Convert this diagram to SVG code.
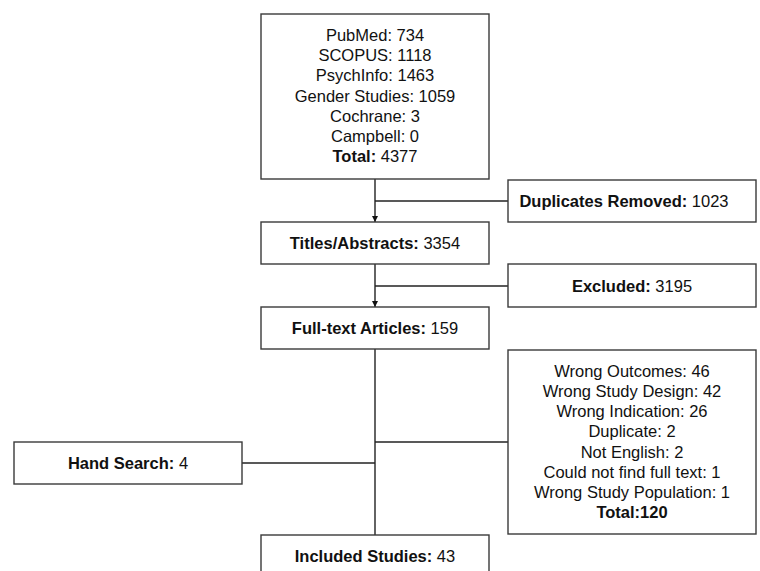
<svg xmlns="http://www.w3.org/2000/svg" width="760" height="571" viewBox="0 0 760 571">
<style>
.box{fill:#fff;stroke:#3a3a3a;stroke-width:1.4}
.t{font-family:"Liberation Sans",Arial,sans-serif;font-size:16.5px;fill:#111;text-anchor:middle}
.b{font-weight:bold}
.ln{stroke:#222;stroke-width:1.4;fill:none}
</style>
<defs>
<marker id="arr" viewBox="0 0 10 10" refX="10" refY="5" markerWidth="6" markerHeight="6" markerUnits="userSpaceOnUse" orient="auto">
<path d="M0,0 L10,5 L0,10 z" fill="#111"/>
</marker>
</defs>
<rect width="760" height="571" fill="#fff"/>
<g id="connectors">
<line class="ln" x1="375" y1="179" x2="375" y2="222" marker-end="url(#arr)"/>
<line class="ln" x1="375" y1="201" x2="508" y2="201"/>
<line class="ln" x1="375" y1="264" x2="375" y2="307" marker-end="url(#arr)"/>
<line class="ln" x1="375" y1="286" x2="508" y2="286"/>
<line class="ln" x1="375" y1="349" x2="375" y2="535"/>
<line class="ln" x1="375" y1="442" x2="508" y2="442"/>
<line class="ln" x1="242" y1="463" x2="375" y2="463"/>
</g>
<g id="databases">
<rect class="box" x="261" y="14" width="228" height="165"/>
<text class="t" x="375" y="41">PubMed: 734</text>
<text class="t" x="375" y="61.2">SCOPUS: 1118</text>
<text class="t" x="375" y="81.4">PsychInfo: 1463</text>
<text class="t" x="375" y="101.6">Gender Studies: 1059</text>
<text class="t" x="375" y="121.8">Cochrane: 3</text>
<text class="t" x="375" y="142">Campbell: 0</text>
<text class="t" x="375" y="162.2"><tspan class="b">Total:</tspan> 4377</text>
</g>
<g id="duplicates">
<rect class="box" x="508" y="180" width="248" height="42"/>
<text class="t" x="624" y="207"><tspan class="b">Duplicates Removed:</tspan> 1023</text>
</g>
<g id="titles">
<rect class="box" x="261" y="222" width="228" height="42"/>
<text class="t" x="375" y="249"><tspan class="b">Titles/Abstracts:</tspan> 3354</text>
</g>
<g id="excluded">
<rect class="box" x="508" y="264" width="248" height="43"/>
<text class="t" x="632" y="292"><tspan class="b">Excluded:</tspan> 3195</text>
</g>
<g id="fulltext">
<rect class="box" x="261" y="307" width="228" height="42"/>
<text class="t" x="375" y="334"><tspan class="b">Full-text Articles:</tspan> 159</text>
</g>
<g id="reasons">
<rect class="box" x="508" y="350" width="248" height="184"/>
<text class="t" x="632" y="377">Wrong Outcomes: 46</text>
<text class="t" x="632" y="397.1">Wrong Study Design: 42</text>
<text class="t" x="632" y="417.3">Wrong Indication: 26</text>
<text class="t" x="632" y="437.4">Duplicate: 2</text>
<text class="t" x="632" y="457.6">Not English: 2</text>
<text class="t" x="632" y="477.7">Could not find full text: 1</text>
<text class="t" x="632" y="497.8">Wrong Study Population: 1</text>
<text class="t b" x="632" y="518">Total:120</text>
</g>
<g id="handsearch">
<rect class="box" x="14" y="442" width="228" height="42"/>
<text class="t" x="128" y="469"><tspan class="b">Hand Search:</tspan> 4</text>
</g>
<g id="included">
<rect class="box" x="261" y="535" width="228" height="50"/>
<text class="t" x="375" y="562"><tspan class="b">Included Studies:</tspan> 43</text>
</g>
</svg>
